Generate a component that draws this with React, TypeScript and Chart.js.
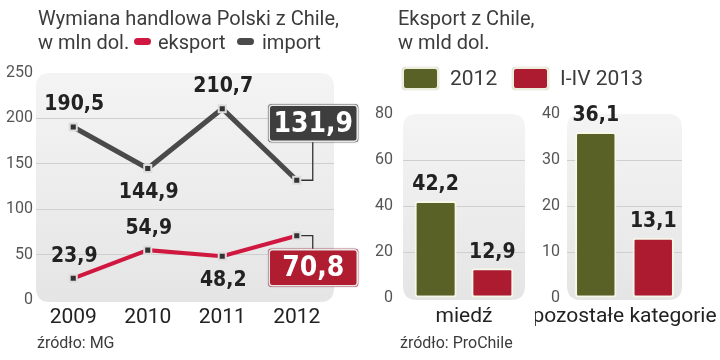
import React, { useEffect, useRef } from 'react';
import { Chart, registerables } from 'chart.js';

Chart.register(...registerables);

// ---------- data ----------
const years = ['2009', '2010', '2011', '2012'];
const importValues = [190.5, 144.9, 210.7, 131.9];
const eksportValues = [23.9, 54.9, 48.2, 70.8];
const lineSeriesNames = ['import', 'eksport'];
const lineYMax = 250;
const lineYStep = 50;

const barCategories = ['miedź', 'pozostałe kategorie'];
const bars2012 = [42.2, 36.1];
const bars2013 = [12.9, 13.1];
const barSeriesNames = ['2012', 'I-IV 2013'];
const barYMax = [80, 40];
const barYStep = [20, 10];

// ---------- label placement (styling, not data) ----------
const importLabelPlace = ['above', 'below', 'above', 'box'];
const eksportLabelPlace = ['above', 'above', 'below', 'box'];

const C = {
  importLine: '#4a4a4a',
  importBox: '#3e3e3e',
  eksportLine: '#d0173f',
  eksportBox: '#b01c30',
  green: '#5a6127',
  red: '#ad1b30',
  text: '#222222',
  tick: '#555555',
  grid: '#cfcfcf',
};

const BOLD_FONT = "bold 21px 'DejaVu Sans Condensed', 'DejaVu Sans', sans-serif";
const BOX_FONT = "bold 28px 'DejaVu Sans Condensed', 'DejaVu Sans', sans-serif";

const fmt = (v: number) => v.toFixed(1).replace('.', ',');

function roundRect(ctx: CanvasRenderingContext2D, x: number, y: number, w: number, h: number, r: number) {
  ctx.beginPath();
  ctx.moveTo(x + r, y);
  ctx.lineTo(x + w - r, y);
  ctx.quadraticCurveTo(x + w, y, x + w, y + r);
  ctx.lineTo(x + w, y + h - r);
  ctx.quadraticCurveTo(x + w, y + h, x + w - r, y + h);
  ctx.lineTo(x + r, y + h);
  ctx.quadraticCurveTo(x, y + h, x, y + h - r);
  ctx.lineTo(x, y + r);
  ctx.quadraticCurveTo(x, y, x + r, y);
  ctx.closePath();
}

const plotBgPlugin = {
  id: 'plotBg',
  beforeDraw(chart: any) {
    const { ctx, chartArea: a } = chart;
    const g = ctx.createLinearGradient(0, a.top, 0, a.bottom);
    g.addColorStop(0, '#f4f4f4');
    g.addColorStop(1, '#e5e5e5');
    ctx.save();
    ctx.fillStyle = g;
    roundRect(ctx, a.left, a.top, a.width, a.bottom - a.top + 2, 14);
    ctx.fill();
    ctx.restore();
  },
};

const placeFor = (di: number) => (di === 0 ? importLabelPlace : eksportLabelPlace);

const lineLabelPlugin = {
  id: 'lineLabels',
  beforeDatasetsDraw(chart: any) {
    const ctx = chart.ctx;
    chart.data.datasets.forEach((_ds: any, di: number) => {
      const meta = chart.getDatasetMeta(di);
      const place = placeFor(di);
      meta.data.forEach((pt: any, i: number) => {
        if (place[i] !== 'box') return;
        const up = di === 0;
        const bx = pt.x + 16;
        const by = up ? pt.y - 57 + 19 : pt.y + 32 - 19;
        ctx.save();
        ctx.strokeStyle = '#333';
        ctx.lineWidth = 1.3;
        ctx.beginPath();
        ctx.moveTo(pt.x, pt.y);
        ctx.lineTo(bx, pt.y);
        ctx.lineTo(bx, by);
        ctx.stroke();
        ctx.restore();
      });
    });
  },
  afterDatasetsDraw(chart: any) {
    const ctx = chart.ctx;
    chart.data.datasets.forEach((ds: any, di: number) => {
      const meta = chart.getDatasetMeta(di);
      const place = placeFor(di);
      meta.data.forEach((pt: any, i: number) => {
        const text = fmt(ds.data[i]);
        ctx.save();
        ctx.textAlign = 'center';
        ctx.textBaseline = 'middle';
        if (place[i] === 'box') {
          const up = di === 0;
          const cx = pt.x + 16.5;
          const cy = up ? pt.y - 57 : pt.y + 32;
          const w = 90;
          const h = 38;
          ctx.shadowColor = 'rgba(0,0,0,0.25)';
          ctx.shadowBlur = 2;
          roundRect(ctx, cx - w / 2, cy - h / 2, w, h, 3);
          ctx.fillStyle = up ? C.importBox : C.eksportBox;
          ctx.fill();
          ctx.shadowColor = 'transparent';
          ctx.lineWidth = 1.5;
          ctx.strokeStyle = '#e8e8e8';
          roundRect(ctx, cx - w / 2 + 1, cy - h / 2 + 1, w - 2, h - 2, 3);
          ctx.stroke();
          ctx.font = BOX_FONT;
          ctx.fillStyle = '#ffffff';
          ctx.fillText(text, cx, cy + 1);
        } else {
          ctx.font = BOLD_FONT;
          ctx.fillStyle = C.text;
          const dy = place[i] === 'above' ? -22 : 24;
          ctx.fillText(text, pt.x + 1, pt.y + dy);
        }
        ctx.restore();
      });
    });
  },
};

const barLabelPlugin = {
  id: 'barLabels',
  afterDatasetsDraw(chart: any) {
    const ctx = chart.ctx;
    chart.data.datasets.forEach((ds: any, di: number) => {
      const meta = chart.getDatasetMeta(di);
      meta.data.forEach((bar: any, i: number) => {
        ctx.save();
        ctx.font = BOLD_FONT;
        ctx.fillStyle = C.text;
        ctx.textAlign = 'center';
        ctx.textBaseline = 'middle';
        ctx.fillText(fmt(ds.data[i]), bar.x, bar.y - 16);
        ctx.restore();
      });
    });
  },
};

function makeLineChart(canvas: HTMLCanvasElement) {
  const pointCommon = {
    pointStyle: 'rect',
    pointRadius: 5,
    pointBackgroundColor: '#333333',
    pointBorderColor: '#dddddd',
    pointBorderWidth: 2,
    tension: 0,
    fill: false,
  };
  return new Chart(canvas, {
    type: 'line',
    data: {
      labels: years,
      datasets: [
        { label: lineSeriesNames[0], data: importValues, borderColor: C.importLine, borderWidth: 5, ...pointCommon } as any,
        { label: lineSeriesNames[1], data: eksportValues, borderColor: C.eksportLine, borderWidth: 4, ...pointCommon } as any,
      ],
    },
    options: {
      responsive: false,
      animation: false,
      layout: { padding: { top: 73, right: 26, bottom: 0, left: 0 } },
      plugins: { legend: { display: false }, tooltip: { enabled: false }, title: { display: false } },
      scales: {
        x: {
          offset: true,
          grid: { display: false, drawTicks: false },
          border: { display: false },
          ticks: { font: { family: 'Roboto', size: 21 }, color: C.text, padding: 5, maxRotation: 0 },
          afterFit: (s: any) => {
            s.height = 60;
            s.paddingLeft = 0;
            s.paddingRight = 0;
          },
        },
        y: {
          min: 0,
          max: lineYMax,
          border: { display: false },
          grid: {
            drawTicks: false,
            color: (c: any) => (c.tick && c.tick.value > 0 && c.tick.value < lineYMax ? C.grid : 'rgba(0,0,0,0)'),
          },
          ticks: { stepSize: lineYStep, font: { family: 'Roboto', size: 16 }, color: C.tick, padding: 3 },
          afterFit: (s: any) => {
            s.width = 36;
          },
        },
      },
    } as any,
    plugins: [plotBgPlugin, lineLabelPlugin],
  });
}

function makeBarChart(canvas: HTMLCanvasElement, idx: number, yWidth: number, padRight: number, tickPad: number, catPct: number, barPct: number) {
  return new Chart(canvas, {
    type: 'bar',
    data: {
      labels: [barCategories[idx]],
      datasets: [
        { label: barSeriesNames[0], data: [bars2012[idx]], backgroundColor: C.green },
        { label: barSeriesNames[1], data: [bars2013[idx]], backgroundColor: C.red },
      ].map((d) => ({
        ...d,
        borderColor: 'rgba(248,248,232,0.95)',
        borderWidth: 2,
        borderRadius: 3,
        borderSkipped: false,
        categoryPercentage: catPct,
        barPercentage: barPct,
      })) as any,
    },
    options: {
      responsive: false,
      animation: false,
      layout: { padding: { top: 114, right: padRight, bottom: 0, left: 0 } },
      plugins: { legend: { display: false }, tooltip: { enabled: false }, title: { display: false } },
      scales: {
        x: {
          grid: { display: false, drawTicks: false },
          border: { display: false },
          ticks: { font: { family: 'Roboto', size: 21 }, color: C.text, padding: 6, maxRotation: 0, autoSkip: false },
          afterFit: (s: any) => {
            s.height = 62;
            s.paddingLeft = 0;
            s.paddingRight = 0;
          },
        },
        y: {
          min: 0,
          max: barYMax[idx],
          border: { display: false },
          grid: {
            drawTicks: false,
            color: (c: any) => (c.tick && c.tick.value > 0 && c.tick.value < barYMax[idx] ? C.grid : 'rgba(0,0,0,0)'),
          },
          ticks: { stepSize: barYStep[idx], font: { family: 'Roboto', size: 16 }, color: C.tick, padding: tickPad },
          afterFit: (s: any) => {
            s.width = yWidth;
          },
        },
      },
    } as any,
    plugins: [plotBgPlugin, barLabelPlugin],
  });
}

const abs = (o: React.CSSProperties): React.CSSProperties => ({ position: 'absolute', ...o });

export default function App() {
  const lineRef = useRef<HTMLCanvasElement>(null);
  const bar1Ref = useRef<HTMLCanvasElement>(null);
  const bar2Ref = useRef<HTMLCanvasElement>(null);

  useEffect(() => {
    const charts: Chart[] = [];
    if (lineRef.current) charts.push(makeLineChart(lineRef.current));
    if (bar1Ref.current) charts.push(makeBarChart(bar1Ref.current, 0, 38, 10, 10, 0.93, 0.74));
    if (bar2Ref.current) charts.push(makeBarChart(bar2Ref.current, 1, 32, 38, 7, 1.0, 0.72));
    return () => charts.forEach((c) => c.destroy());
  }, []);

  const titleStyle: React.CSSProperties = {
    fontFamily: 'Roboto, sans-serif',
    fontSize: 20,
    lineHeight: '24px',
    color: '#3c3c3c',
    whiteSpace: 'nowrap',
  };

  return (
    <div style={{ position: 'absolute', left: 0, top: 0, width: 720, height: 360, background: '#ffffff', overflow: 'hidden' }}>
      <canvas ref={lineRef} width={360} height={360} style={abs({ left: 0, top: 0, width: 360, height: 360 })} />
      <canvas ref={bar1Ref} width={170} height={360} style={abs({ left: 365, top: 0, width: 170, height: 360 })} />
      <canvas ref={bar2Ref} width={185} height={360} style={abs({ left: 535, top: 0, width: 185, height: 360 })} />

      {/* left title + legend */}
      <div style={abs({ left: 38, top: 6, ...titleStyle })}>Wymiana handlowa Polski z Chile,</div>
      <div style={abs({ left: 38, top: 30, ...titleStyle })}>w mln dol.</div>
      <div style={abs({ left: 134, top: 38, width: 17, height: 7, borderRadius: 4, background: C.eksportLine })} />
      <div style={abs({ left: 158, top: 30, ...titleStyle })}>{lineSeriesNames[1]}</div>
      <div style={abs({ left: 237, top: 38, width: 17, height: 7, borderRadius: 4, background: C.importLine })} />
      <div style={abs({ left: 262, top: 30, ...titleStyle })}>{lineSeriesNames[0]}</div>

      {/* right title + legend */}
      <div style={abs({ left: 398, top: 6, ...titleStyle })}>Eksport z Chile,</div>
      <div style={abs({ left: 398, top: 30, ...titleStyle })}>w mld dol.</div>
      <div
        style={abs({
          left: 402, top: 67, width: 33, height: 19, borderRadius: 4, background: C.green,
          border: '2px solid #eeeedd', boxShadow: '0 0 1px rgba(0,0,0,0.4)',
        })}
      />
      <div style={abs({ left: 450, top: 66, ...titleStyle, fontSize: 21 })}>{barSeriesNames[0]}</div>
      <div
        style={abs({
          left: 512, top: 67, width: 33, height: 19, borderRadius: 4, background: C.red,
          border: '2px solid #eeeedd', boxShadow: '0 0 1px rgba(0,0,0,0.4)',
        })}
      />
      <div style={abs({ left: 560, top: 66, ...titleStyle, fontSize: 21 })}>{barSeriesNames[1]}</div>

      {/* sources */}
      <div style={abs({ left: 37, top: 333, ...titleStyle, fontSize: 16, lineHeight: '20px' })}>źródło: MG</div>
      <div style={abs({ left: 400, top: 333, ...titleStyle, fontSize: 16, lineHeight: '20px' })}>źródło: ProChile</div>
    </div>
  );
}
